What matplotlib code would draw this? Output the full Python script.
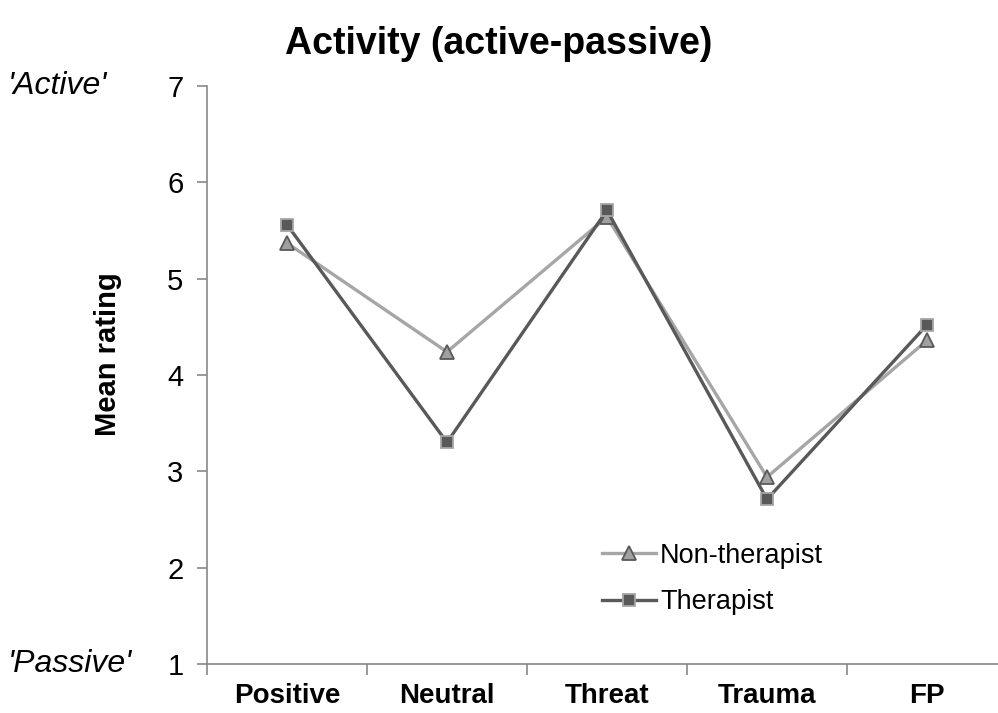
import numpy as np
import matplotlib
matplotlib.use("Agg")
import matplotlib.pyplot as plt

plt.rcParams['font.family'] = ['Liberation Sans', 'DejaVu Sans']

categories = ['Positive', 'Neutral', 'Threat', 'Trauma', 'FP']
non_therapist = [5.37, 4.24, 5.64, 2.94, 4.36]
therapist = [5.56, 3.30, 5.71, 2.71, 4.52]
y_ticks = [1, 2, 3, 4, 5, 6, 7]

fig = plt.figure(figsize=(9.98, 7.13), dpi=100)
ax = fig.add_axes([207 / 998, 49 / 713, 800 / 998, 578 / 713])

x = np.arange(len(categories))
ax.plot(x, non_therapist, color='#A6A6A6', lw=2.4, marker='^', ms=10,
        mfc='#A0A0A0', mec='#595959', mew=1.3, label='Non-therapist', zorder=3)
ax.plot(x, therapist, color='#595959', lw=2.4, marker='s', ms=9,
        mfc='#595959', mec='#A6A6A6', mew=1.3, label='Therapist', zorder=4)

ax.set_xlim(-0.5, len(categories) - 0.5)
ax.set_ylim(1, 7)
ax.set_yticks(y_ticks)
ax.set_yticklabels([str(v) for v in y_ticks], fontsize=21)
ax.set_xticks(x)
ax.set_xticklabels(categories, fontsize=20, fontweight='bold')
ax.set_xticks(np.arange(len(categories) + 1) - 0.5, minor=True)
ax.tick_params(axis='x', which='major', length=0, pad=14)
ax.tick_params(axis='x', which='minor', length=8, width=1.2, color='#888888', direction='out')
ax.tick_params(axis='y', length=7, width=1.2, color='#888888', pad=10)

for side in ['top', 'right']:
    ax.spines[side].set_visible(False)
for side in ['left', 'bottom']:
    ax.spines[side].set_color('#888888')
    ax.spines[side].set_linewidth(1.2)

ax.set_ylabel('Mean rating', fontsize=21, fontweight='bold')
ax.yaxis.set_label_coords(-0.106, 0.536)
fig.text(0.5, 1 - 44 / 713, 'Activity (active-passive)', ha='center', va='center',
         fontsize=27, fontweight='bold')
fig.text(8 / 998, 1 - 86 / 713, "'Active'", ha='left', va='center',
         fontsize=23, style='italic')
fig.text(8 / 998, 1 - 664 / 713, "'Passive'", ha='left', va='center',
         fontsize=23, style='italic')

ax.legend(loc='upper left', bbox_to_anchor=(384 / 800, 1 - 446 / 578), frameon=False,
          fontsize=19.5, handlelength=2.0, handletextpad=0.15, labelspacing=0.75,
          borderaxespad=0)

fig.savefig('out.png', dpi=100)
